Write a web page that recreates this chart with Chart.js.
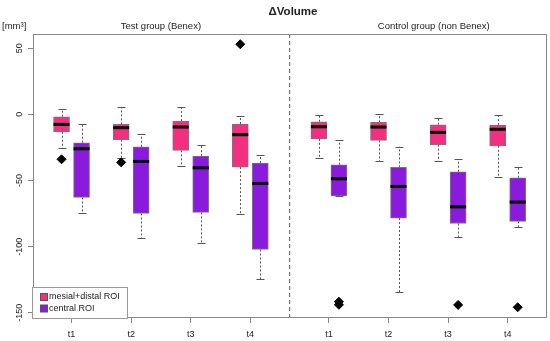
<!DOCTYPE html>
<html>
<head>
<meta charset="utf-8">
<script src="https://cdn.jsdelivr.net/npm/chart.js@4.4.0/dist/chart.umd.min.js"></script>
<style>
  html, body { margin: 0; padding: 0; background: #fff; }
  #wrap { width: 550px; height: 341px; }
</style>
</head>
<body>
<div id="wrap"><canvas id="chart"></canvas></div>
<script>
const timepoints = ["t1", "t2", "t3", "t4"];
const groupNames = ["Test group (Benex)", "Control group (non Benex)"];
const regionNames = ["mesial+distal ROI", "central ROI"];
const yTicks = [-150, -100, -50, 0, 50];

// each box: [lower whisker, Q1, median, Q3, upper whisker]
const mesialTest = [
  [-25.7, -13.2, -7.6, -1.8, 4.2],
  [-33, -19.2, -10.1, -7.6, 5.3],
  [-39.1, -27.2, -9.6, -5.1, 5.8],
  [-75.2, -39.9, -15.4, -7.3, -1.5]
];
const centralTest = [
  [-74.4, -62.8, -26, -21.5, -7.1],
  [-93.8, -74.9, -35.6, -24.5, -15.1],
  [-97.4, -74.1, -40.4, -31.5, -23.5],
  [-124.6, -102.1, -52.2, -36.8, -31]
];
const mesialControl = [
  [-33, -18.5, -9.4, -5.6, -0.3],
  [-35.3, -19.7, -9.6, -6, 0],
  [-35.3, -23, -13.6, -7.9, -2.8],
  [-47.2, -23.8, -11.3, -8.1, -0.8]
];
const centralControl = [
  [-61.6, -61.6, -48.7, -38.1, -19.7],
  [-134.2, -78.4, -54.5, -40.1, -24.5],
  [-93, -82.5, -69.9, -43.4, -33.8],
  [-85.5, -80.9, -66.3, -48, -39.9]
];
const outMesialTest = [[-34], [-36.3], [], [53]];
const outCentralTest = [[], [], [], []];
const outMesialControl = [[], [], [], []];
const outCentralControl = [[-141.6, -143.9], [], [-144], [-145.8]];

const pink = "#F2307F";
const purple = "#8A1ADC";

// layout in x units (one unit = distance between timepoints)
const GROUP_GAP = 1.32;
const SIDE = 0.168;
function xPos(group, i) {
  return 1 + i + group * (3 + GROUP_GAP);
}

const series = [
  { stats: mesialTest, out: outMesialTest, group: 0, side: -1 },
  { stats: centralTest, out: outCentralTest, group: 0, side: 1 },
  { stats: mesialControl, out: outMesialControl, group: 1, side: -1 },
  { stats: centralControl, out: outCentralControl, group: 1, side: 1 }
];

function boxes() {
  let list = [];
  series.forEach(s => s.stats.forEach((st, i) => {
    list.push({ x: xPos(s.group, i) + s.side * SIDE, st: st, out: s.out[i], side: s.side });
  }));
  return list;
}

function barData(side) {
  return boxes().filter(b => b.side === side).map(b => ({ x: b.x, y: [b.st[1], b.st[3]] }));
}
const medianData = boxes().map(b => ({ x: b.x, y: b.st[2] }));
const outlierData = [];
boxes().forEach(b => b.out.forEach(v => outlierData.push({ x: b.x, y: v })));

const tickValues = [];
[0, 1].forEach(g => timepoints.forEach((t, i) => tickValues.push(xPos(g, i))));

const FONT = "'Liberation Sans', Arial, sans-serif";

const extras = {
  id: "extras",
  beforeDatasetsDraw(chart) {
    const { ctx, chartArea: a, scales: { x, y } } = chart;
    ctx.save();
    // group divider
    const dx = x.getPixelForValue(4.66);
    ctx.strokeStyle = "#777";
    ctx.lineWidth = 1.2;
    ctx.setLineDash([4, 3]);
    ctx.beginPath();
    ctx.moveTo(dx, a.top);
    ctx.lineTo(dx, a.bottom);
    ctx.stroke();
    // whiskers
    ctx.strokeStyle = "#555";
    ctx.lineWidth = 1;
    boxes().forEach(b => {
      const px = Math.round(x.getPixelForValue(b.x)) + 0.5;
      ctx.setLineDash([2, 2]);
      ctx.beginPath();
      ctx.moveTo(px, y.getPixelForValue(b.st[3]));
      ctx.lineTo(px, y.getPixelForValue(b.st[4]));
      ctx.moveTo(px, y.getPixelForValue(b.st[1]));
      ctx.lineTo(px, y.getPixelForValue(b.st[0]));
      ctx.stroke();
      ctx.setLineDash([]);
      ctx.beginPath();
      [b.st[0], b.st[4]].forEach(v => {
        const py = Math.round(y.getPixelForValue(v)) + 0.5;
        ctx.moveTo(px - 4, py);
        ctx.lineTo(px + 4, py);
      });
      ctx.stroke();
    });
    ctx.restore();
  },
  afterDraw(chart) {
    const { ctx, chartArea: a, scales: { x, y } } = chart;
    ctx.save();
    // frame
    ctx.strokeStyle = "#888";
    ctx.lineWidth = 1;
    ctx.strokeRect(a.left + 0.5, a.top + 0.5, a.right - a.left - 1, a.bottom - a.top - 1);

    ctx.fillStyle = "#222";
    ctx.textAlign = "center";
    ctx.textBaseline = "middle";
    // rotated y tick labels
    ctx.font = "9px " + FONT;
    yTicks.forEach(v => {
      ctx.save();
      ctx.translate(20, y.getPixelForValue(v));
      ctx.rotate(-Math.PI / 2);
      ctx.fillText(String(v), 0, 0);
      ctx.restore();
    });
    // titles
    ctx.font = "bold 11.5px " + FONT;
    ctx.fillText("\u0394Volume", 293, 12);
    ctx.font = "9.5px " + FONT;
    ctx.fillText(groupNames[0], x.getPixelForValue(2.5), 26);
    ctx.fillText(groupNames[1], x.getPixelForValue(7.08), 26);
    ctx.textAlign = "left";
    ctx.font = "9.5px " + FONT;
    ctx.fillText("[mm\u00B3]", 2, 26);

    // legend
    const lx = a.left - 1, ly = 287, lw = 95, lh = 31;
    ctx.fillStyle = "#fff";
    ctx.fillRect(lx, ly, lw, lh);
    ctx.strokeStyle = "#999";
    ctx.strokeRect(lx + 0.5, ly + 0.5, lw, lh);
    ctx.font = "9px " + FONT;
    [[pink, regionNames[0], 297], [purple, regionNames[1], 308.5]].forEach(([c, t, yy]) => {
      ctx.fillStyle = c;
      ctx.fillRect(40, yy - 3.5, 7, 7);
      ctx.strokeStyle = "#555";
      ctx.strokeRect(40.5, yy - 3.5, 7, 7);
      ctx.fillStyle = "#222";
      ctx.fillText(t, 49, yy);
    });
    ctx.restore();
  }
};

new Chart(document.getElementById("chart"), {
  type: "bar",
  data: {
    datasets: [
      {
        type: "scatter", label: "median", data: medianData, order: 0,
        pointStyle: "line", radius: 8, borderWidth: 3, borderColor: "#000"
      },
      {
        type: "scatter", label: "outliers", data: outlierData, order: 0,
        pointStyle: "rectRot", radius: 4.5, backgroundColor: "#000", borderColor: "#000", borderWidth: 1
      },
      {
        label: regionNames[0], data: barData(-1), order: 1, grouped: false,
        backgroundColor: pink, borderColor: "#777", borderWidth: 1, borderSkipped: false, barThickness: 16
      },
      {
        label: regionNames[1], data: barData(1), order: 1, grouped: false,
        backgroundColor: purple, borderColor: "#777", borderWidth: 1, borderSkipped: false, barThickness: 16
      }
    ]
  },
  options: {
    responsive: true,
    maintainAspectRatio: false,
    animation: false,
    devicePixelRatio: 1,
    events: [],
    layout: { autoPadding: false, padding: { top: 34, right: 3, left: 0, bottom: 0 } },
    plugins: { legend: { display: false }, tooltip: { enabled: false }, title: { display: false } },
    scales: {
      x: {
        type: "linear",
        offset: false,
        min: 0.353,
        max: 8.98,
        afterBuildTicks: s => { s.ticks = tickValues.map(v => ({ value: v })); },
        afterFit: s => { s.height = 23; s.paddingLeft = 0; s.paddingRight = 0; },
        ticks: {
          callback: (v, i) => timepoints[i % 4],
          font: { family: FONT, size: 9 },
          color: "#222",
          padding: 6,
          maxRotation: 0,
          autoSkip: false
        },
        grid: { offset: false, drawOnChartArea: false, drawTicks: true, tickLength: 5, color: "#888" },
        border: { display: false }
      },
      y: {
        type: "linear",
        min: -153.9,
        max: 60.7,
        afterBuildTicks: s => { s.ticks = yTicks.map(v => ({ value: v })); },
        afterFit: s => { s.width = 33; s.paddingTop = 0; s.paddingBottom = 0; },
        ticks: { display: false },
        grid: { drawOnChartArea: false, drawTicks: true, tickLength: 5, color: "#888" },
        border: { display: false }
      }
    }
  },
  plugins: [extras]
});
</script>
</body>
</html>
